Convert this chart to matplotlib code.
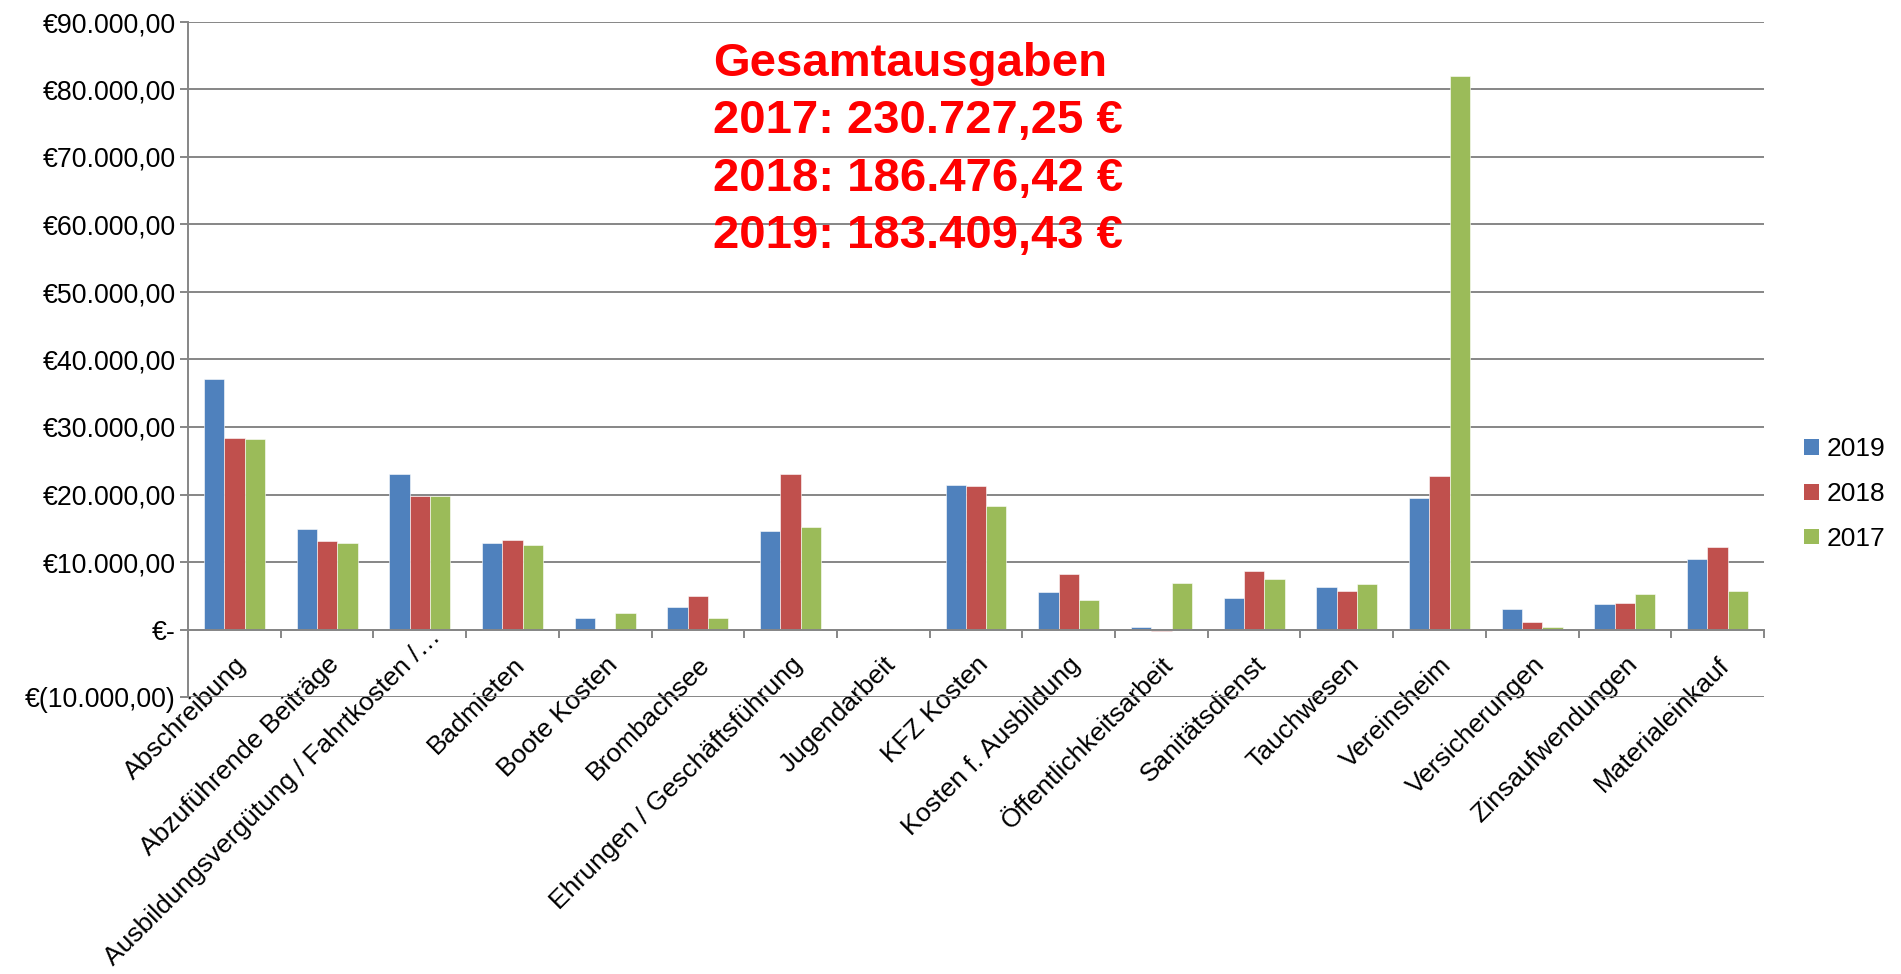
import matplotlib
matplotlib.use("Agg")
import matplotlib.pyplot as plt
from matplotlib.patches import Patch
from matplotlib.ticker import FuncFormatter, FixedLocator
import matplotlib.transforms as mtransforms
import numpy as np

plt.rcParams['font.family'] = ['Liberation Sans', 'DejaVu Sans']

categories = ["Abschreibung", "Abzuführende Beiträge", "Ausbildungsvergütung / Fahrtkosten /…",
              "Badmieten", "Boote Kosten", "Brombachsee", "Ehrungen / Geschäftsführung",
              "Jugendarbeit", "KFZ Kosten", "Kosten f. Ausbildung", "Öffentlichkeitsarbeit",
              "Sanitätsdienst", "Tauchwesen", "Vereinsheim", "Versicherungen",
              "Zinsaufwendungen", "Materialeinkauf"]
series_names = ["2019", "2018", "2017"]
v2019 = [37100, 14900, 23100, 12850, 1700, 3370, 14650, 0, 21400, 5540, 370, 4720, 6260, 19500, 3050, 3760, 10500]
v2018 = [28350, 13150, 19750, 13300, 0, 4950, 23070, 0, 21240, 8270, -250, 8600, 5640, 22800, 1100, 3860, 12200]
v2017 = [28250, 12800, 19850, 12500, 2500, 1630, 15200, 80, 18300, 4400, 6870, 7550, 6690, 82000, 320, 5300, 5740]
colors = ["#4F81BD", "#C0504D", "#9BBB59"]
annotation = "Gesamtausgaben\n2017: 230.727,25 €\n2018: 186.476,42 €\n2019: 183.409,43 €"

W, H = 1901, 974
fig = plt.figure(figsize=(W / 100, H / 100), dpi=100)
left, right, top, bottom = 188, 1764, 22, 697
ax = fig.add_axes([left / W, 1 - bottom / H, (right - left) / W, (bottom - top) / H])

x = np.arange(len(categories))
bw = 0.219
for i, (vals, c) in enumerate(zip([v2019, v2018, v2017], colors)):
    ax.bar(x + (i - 1) * bw, vals, width=bw, color=c, edgecolor='white', linewidth=0.4, zorder=3)

ax.set_xlim(-0.5, len(categories) - 0.5)
ax.set_ylim(-10000, 90000)
ax.set_yticks(np.arange(-10000, 90001, 10000))

def fmt(v, pos=None):
    if abs(v) < 1e-6:
        return "€-"
    s = f"{abs(v):,.2f}".replace(",", "X").replace(".", ",").replace("X", ".")
    return f"€({s})" if v < 0 else f"€{s}"

ax.yaxis.set_major_formatter(FuncFormatter(fmt))
ax.grid(axis='y', color='#868686', linewidth=1.4, zorder=0)
ax.set_axisbelow(True)
for s in ['top', 'right']:
    ax.spines[s].set_visible(False)
ax.spines['left'].set_color('#868686')
ax.spines['left'].set_linewidth(1.4)
ax.spines['bottom'].set_position(('data', 0))
ax.spines['bottom'].set_color('#868686')
ax.spines['bottom'].set_linewidth(1.4)
ax.spines['bottom'].set_zorder(4)

ax.tick_params(axis='y', labelsize=19.3, length=6, width=1.4, color='#868686', pad=3)
ax.set_xticks(x)
ax.set_xticklabels(categories, rotation=45, ha='right', va='top', rotation_mode='anchor', fontsize=19)
ax.tick_params(axis='x', which='major', length=0, pad=16.5)
ax.xaxis.set_minor_locator(FixedLocator(np.arange(-0.5, len(categories), 1.0)))
ax.tick_params(axis='x', which='minor', length=5.5, width=1.4, color='#868686', direction='out')

handles = [Patch(facecolor=c, edgecolor='none') for c in colors]
fig.legend(handles, series_names, loc='center left', bbox_to_anchor=(1804 / W, 1 - 494 / H),
           frameon=False, fontsize=19, handlelength=0.55, handleheight=0.55,
           handletextpad=0.3, labelspacing=0.79, borderpad=0, borderaxespad=0)

fig.text(713 / W, 1 - 42 / H, annotation, ha='left', va='top', fontsize=34, fontweight='bold',
         color='#FF0000', linespacing=1.39)

# keep long rotated labels inside the figure (like the original chart does)
fig.canvas.draw()
renderer = fig.canvas.get_renderer()
for lab in ax.get_xticklabels():
    bb = lab.get_window_extent(renderer)
    if bb.y0 < 4:
        dy = 4 - bb.y0
        lab.set_transform(lab.get_transform() +
                          mtransforms.Affine2D().translate(0.3 * dy, dy))

fig.savefig("out.png", dpi=100)
